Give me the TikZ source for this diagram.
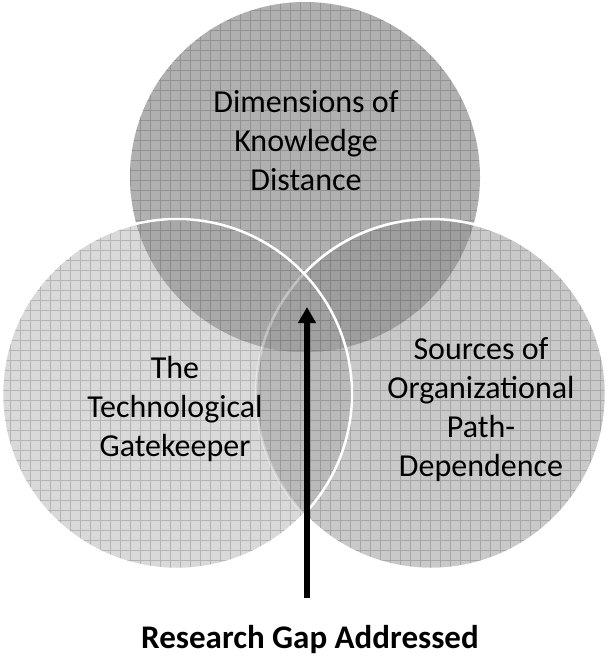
\documentclass[tikz,border=0pt]{standalone}
\usepackage{fontspec}
\setmainfont{Carlito}
\usetikzlibrary{arrows.meta}
\definecolor{cT}{gray}{0.69}
\definecolor{cL}{gray}{0.85}
\definecolor{cR}{gray}{0.79}
\definecolor{cTL}{gray}{0.66}
\definecolor{cTR}{gray}{0.62}
\definecolor{cLR}{gray}{0.73}
\definecolor{cTLR}{gray}{0.63}
\begin{document}
\begin{tikzpicture}[x=1pt,y=-1pt,
  lbl/.style={align=center, font=\fontsize{32}{39}\selectfont, text=black, inner sep=0pt},
  caption/.style={align=center, font=\bfseries\fontsize{33}{38}\selectfont, text=black, inner sep=0pt},
  gridline/.style={draw=black, draw opacity=0.17, line width=0.6pt},
  rim/.style={draw=white, line width=2.5pt},
  gaparrow/.style={draw=black, line width=6pt, -{Triangle[length=16pt,width=17pt]}}]
\useasboundingbox (0,0) rectangle (606,660);
\coordinate (T) at (305,177);
\coordinate (L) at (177,394);
\coordinate (R) at (431,394);
\def\rad{175pt}
% base fills
\fill[cT] (T) circle[radius=\rad];
\fill[cL] (L) circle[radius=\rad];
\fill[cR] (R) circle[radius=\rad];
\begin{scope}
  \clip (L) circle[radius=\rad];
  \fill[cLR] (R) circle[radius=\rad];
\end{scope}
\begin{scope}
  \clip (T) circle[radius=\rad];
  \fill[cTL] (L) circle[radius=\rad];
  \fill[cTR] (R) circle[radius=\rad];
  \clip (L) circle[radius=\rad];
  \fill[cTLR] (R) circle[radius=\rad];
\end{scope}
% grid texture
\begin{scope}
  \clip (T) circle[radius=\rad] (L) circle[radius=\rad] (R) circle[radius=\rad];
  \draw[gridline] (0,0) grid[step=10pt] (606,660);
\end{scope}
% outlines
\draw[rim, draw opacity=0.35] (R) circle[radius=\rad];
\begin{scope}[even odd rule]
  \clip (-20,-20) rectangle (640,700) (L) circle[radius=\rad];
  \draw[rim] (R) circle[radius=\rad];
\end{scope}
\draw[rim] (L) circle[radius=\rad];
% labels
\node[lbl] (ttop) at (306,141) {Dimensions of\\Knowledge\\Distance};
\node[lbl] (tleft) at (175,409) {The\\Technological\\Gatekeeper};
\node[lbl] (tright) at (481,410) {Sources of\\Organizational\\Path-\\Dependence};
\node[caption] (gap) at (310,640) {Research Gap Addressed};
% arrow
\coordinate (abot) at (307,598);
\coordinate (atip) at (307,307);
\draw[gaparrow] (abot) -- (atip);
\end{tikzpicture}
\end{document}
